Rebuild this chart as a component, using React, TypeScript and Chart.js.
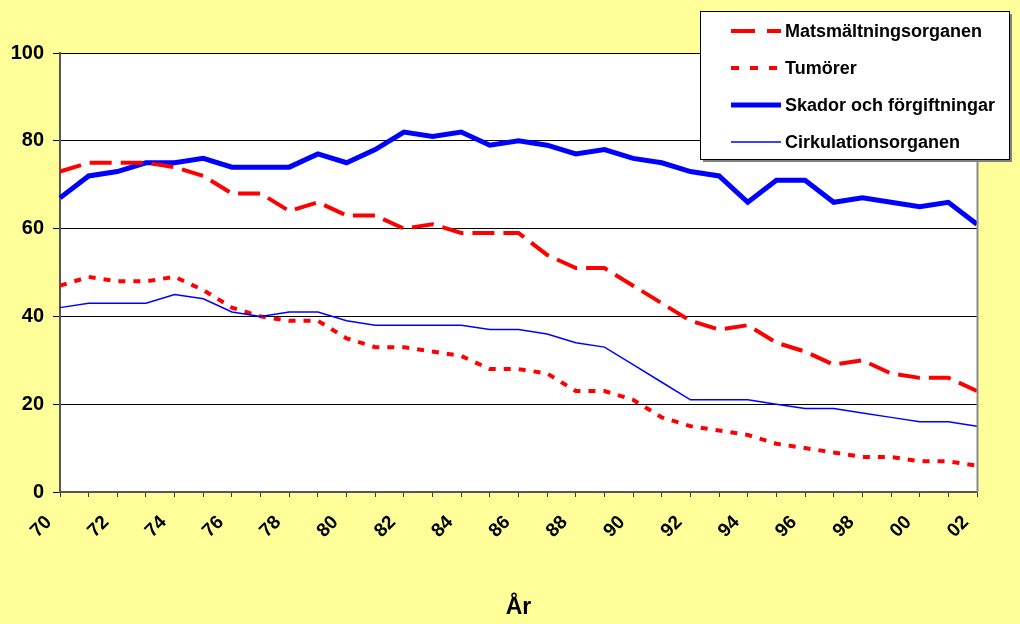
import React, { useEffect, useRef } from "react";
import { Chart, registerables } from "chart.js";

Chart.register(...registerables);

const years = [
  "70", "71", "72", "73", "74", "75", "76", "77", "78", "79",
  "80", "81", "82", "83", "84", "85", "86", "87", "88", "89",
  "90", "91", "92", "93", "94", "95", "96", "97", "98", "99",
  "00", "01", "02",
];

const matsmaltning = [73, 75, 75, 75, 74, 72, 68, 68, 64, 66, 63, 63, 60, 61, 59, 59, 59, 54, 51, 51, 47, 43, 39, 37, 38, 34, 32, 29, 30, 27, 26, 26, 23];
const tumorer = [47, 49, 48, 48, 49, 46, 42, 40, 39, 39, 35, 33, 33, 32, 31, 28, 28, 27, 23, 23, 21, 17, 15, 14, 13, 11, 10, 9, 8, 8, 7, 7, 6];
const skador = [67, 72, 73, 75, 75, 76, 74, 74, 74, 77, 75, 78, 82, 81, 82, 79, 80, 79, 77, 78, 76, 75, 73, 72, 66, 71, 71, 66, 67, 66, 65, 66, 61];
const cirkulation = [42, 43, 43, 43, 45, 44, 41, 40, 41, 41, 39, 38, 38, 38, 38, 37, 37, 36, 34, 33, 29, 25, 21, 21, 21, 20, 19, 19, 18, 17, 16, 16, 15];

const seriesNames = ["Matsmältningsorganen", "Tumörer", "Skador och förgiftningar", "Cirkulationsorganen"];
const yTicks = [0, 20, 40, 60, 80, 100];
const xTitle = "År";

const FONT = "'Liberation Sans', Arial, Helvetica, sans-serif";
const RED = "#FF0000";
const BLUE = "#0000FF";

const legendStyles = [
  { color: RED, width: 4, dash: [24, 12] },
  { color: RED, width: 4, dash: [8, 11] },
  { color: BLUE, width: 5, dash: [] as number[] },
  { color: BLUE, width: 1.5, dash: [] as number[] },
];

const plotBgPlugin = {
  id: "plotBg",
  beforeDraw(chart: any) {
    const { ctx, chartArea } = chart;
    const { left, top, right, bottom } = chartArea;
    ctx.save();
    ctx.fillStyle = "#FFFFFF";
    ctx.fillRect(left, top, right - left, bottom - top);
    ctx.restore();
  },
  afterDraw(chart: any) {
    const { ctx, chartArea } = chart;
    const { top, right, bottom } = chartArea;
    ctx.save();
    ctx.strokeStyle = "#8a8a8a";
    ctx.lineWidth = 2;
    ctx.beginPath();
    ctx.moveTo(right + 0.5, top);
    ctx.lineTo(right + 0.5, bottom);
    ctx.stroke();

    const bx = 700, by = 11, bw = 309, bh = 148;
    ctx.fillStyle = "#808080";
    ctx.fillRect(bx + 3, by + 3, bw, bh);
    ctx.fillStyle = "#FFFFFF";
    ctx.fillRect(bx, by, bw, bh);
    ctx.strokeStyle = "#000000";
    ctx.lineWidth = 1;
    ctx.strokeRect(bx + 0.5, by + 0.5, bw, bh);

    const rows = [31, 68, 105, 142];
    seriesNames.forEach((name, i) => {
      const st = legendStyles[i];
      const y = rows[i];
      ctx.strokeStyle = st.color;
      ctx.lineWidth = st.width;
      ctx.lineCap = "butt";
      ctx.setLineDash(st.dash);
      ctx.beginPath();
      ctx.moveTo(731, y);
      ctx.lineTo(781, y);
      ctx.stroke();
      ctx.setLineDash([]);
      ctx.fillStyle = "#000000";
      ctx.font = `bold 18px ${FONT}`;
      ctx.textAlign = "left";
      ctx.textBaseline = "middle";
      ctx.fillText(name, 785, y + 1);
    });
    ctx.restore();
  },
};

export default function App() {
  const canvasRef = useRef<HTMLCanvasElement | null>(null);

  useEffect(() => {
    const canvas = canvasRef.current;
    if (!canvas) return;
    const chart = new Chart(canvas, {
      type: "line",
      data: {
        labels: years,
        datasets: [
          {
            label: seriesNames[3],
            data: cirkulation,
            borderColor: BLUE,
            borderWidth: 1.5,
            pointRadius: 0,
            tension: 0,
            fill: false,
          },
          {
            label: seriesNames[1],
            data: tumorer,
            borderColor: RED,
            borderWidth: 4,
            borderDash: [7, 8],
            pointRadius: 0,
            tension: 0,
            fill: false,
          },
          {
            label: seriesNames[0],
            data: matsmaltning,
            borderColor: RED,
            borderWidth: 4,
            borderDash: [22, 9],
            pointRadius: 0,
            tension: 0,
            fill: false,
          },
          {
            label: seriesNames[2],
            data: skador,
            borderColor: BLUE,
            borderWidth: 5,
            pointRadius: 0,
            tension: 0,
            fill: false,
          },
        ],
      },
      options: {
        animation: false,
        responsive: false,
        maintainAspectRatio: false,
        layout: { padding: { top: 53, right: 43, left: 0, bottom: 0 } },
        plugins: {
          legend: { display: false },
          tooltip: { enabled: false },
          title: { display: false },
        },
        scales: {
          x: {
            type: "category",
            offset: false,
            afterFit: (s: any) => {
              s.height = 132;
            },
            grid: {
              display: true,
              drawOnChartArea: false,
              drawTicks: true,
              tickLength: 5,
              color: "#333333",
            },
            border: { display: true, color: "#555555", width: 2 },
            ticks: {
              autoSkip: false,
              minRotation: 45,
              maxRotation: 45,
              padding: 3,
              color: "#000000",
              font: { family: FONT, size: 19, weight: "bold" },
              callback: (_v: any, idx: number) => (idx % 2 === 0 ? years[idx] + "   " : ""),
            },
            title: {
              display: true,
              text: xTitle,
              color: "#000000",
              font: { family: FONT, size: 23, weight: "bold" },
              padding: { top: 0, bottom: 3 },
            },
          },
          y: {
            min: 0,
            max: 100,
            afterFit: (s: any) => {
              s.width = 60;
            },
            afterBuildTicks: (s: any) => {
              s.ticks = yTicks.map((v) => ({ value: v }));
            },
            grid: {
              color: "#000000",
              lineWidth: 1,
              tickLength: 7,
              drawTicks: true,
            },
            border: { display: true, color: "#555555", width: 2 },
            ticks: {
              padding: 9,
              color: "#000000",
              font: { family: FONT, size: 20, weight: "bold" },
            },
          },
        },
      },
      plugins: [plotBgPlugin],
    } as any);
    return () => {
      chart.destroy();
    };
  }, []);

  return (
    <div
      style={{
        position: "fixed",
        left: 0,
        top: 0,
        width: 1020,
        height: 624,
        background: "#FFFF99",
      }}
    >
      <canvas ref={canvasRef} width={1020} height={624} style={{ display: "block" }} />
    </div>
  );
}
